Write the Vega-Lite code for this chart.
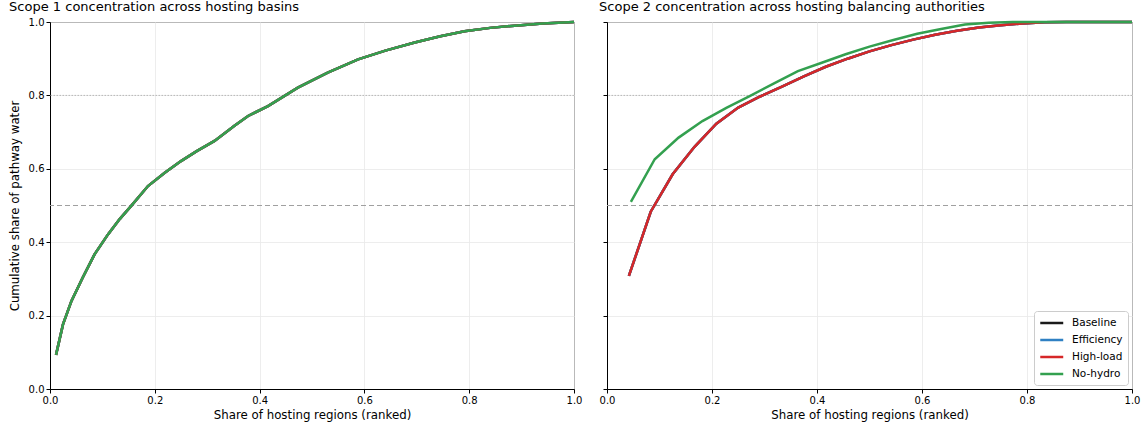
{
  "$schema": "https://vega.github.io/schema/vega-lite/v6.json",
  "padding": {"left": 8, "top": 0, "right": 5, "bottom": 0},
  "spacing": 15,
  "config": {
    "font": "DejaVu Sans",
    "view": {"stroke": "#000000", "strokeWidth": 1},
    "axis": {
      "domainColor": "#000000",
      "tickColor": "#000000",
      "tickSize": 4,
      "labelFontSize": 10,
      "labelColor": "#000000",
      "labelFlush": false,
      "titleFontSize": 11.8,
      "titleFontWeight": "normal",
      "titleColor": "#000000",
      "gridColor": "#e8e8e8",
      "gridWidth": 0.8,
      "labelPadding": 2
    },
    "title": {"fontSize": 13, "fontWeight": "normal", "anchor": "start", "color": "#000000", "offset": 3}
  },
  "datasets": {
    "curves": [
      {"p": "L", "x": 0.0115, "y": 0.093, "s": ["Baseline", "Efficiency", "High-load", "No-hydro"]},
      {"p": "L", "x": 0.0248, "y": 0.176, "s": ["Baseline", "Efficiency", "High-load", "No-hydro"]},
      {"p": "L", "x": 0.041, "y": 0.240, "s": ["Baseline", "Efficiency", "High-load", "No-hydro"]},
      {"p": "L", "x": 0.063, "y": 0.305, "s": ["Baseline", "Efficiency", "High-load", "No-hydro"]},
      {"p": "L", "x": 0.085, "y": 0.367, "s": ["Baseline", "Efficiency", "High-load", "No-hydro"]},
      {"p": "L", "x": 0.111, "y": 0.422, "s": ["Baseline", "Efficiency", "High-load", "No-hydro"]},
      {"p": "L", "x": 0.133, "y": 0.463, "s": ["Baseline", "Efficiency", "High-load", "No-hydro"]},
      {"p": "L", "x": 0.155, "y": 0.499, "s": ["Baseline", "Efficiency", "High-load", "No-hydro"]},
      {"p": "L", "x": 0.187, "y": 0.553, "s": ["Baseline", "Efficiency", "High-load", "No-hydro"]},
      {"p": "L", "x": 0.219, "y": 0.589, "s": ["Baseline", "Efficiency", "High-load", "No-hydro"]},
      {"p": "L", "x": 0.25, "y": 0.621, "s": ["Baseline", "Efficiency", "High-load", "No-hydro"]},
      {"p": "L", "x": 0.28, "y": 0.648, "s": ["Baseline", "Efficiency", "High-load", "No-hydro"]},
      {"p": "L", "x": 0.314, "y": 0.676, "s": ["Baseline", "Efficiency", "High-load", "No-hydro"]},
      {"p": "L", "x": 0.352, "y": 0.717, "s": ["Baseline", "Efficiency", "High-load", "No-hydro"]},
      {"p": "L", "x": 0.378, "y": 0.744, "s": ["Baseline", "Efficiency", "High-load", "No-hydro"]},
      {"p": "L", "x": 0.416, "y": 0.771, "s": ["Baseline", "Efficiency", "High-load", "No-hydro"]},
      {"p": "L", "x": 0.473, "y": 0.821, "s": ["Baseline", "Efficiency", "High-load", "No-hydro"]},
      {"p": "L", "x": 0.53, "y": 0.862, "s": ["Baseline", "Efficiency", "High-load", "No-hydro"]},
      {"p": "L", "x": 0.588, "y": 0.898, "s": ["Baseline", "Efficiency", "High-load", "No-hydro"]},
      {"p": "L", "x": 0.64, "y": 0.922, "s": ["Baseline", "Efficiency", "High-load", "No-hydro"]},
      {"p": "L", "x": 0.696, "y": 0.944, "s": ["Baseline", "Efficiency", "High-load", "No-hydro"]},
      {"p": "L", "x": 0.745, "y": 0.961, "s": ["Baseline", "Efficiency", "High-load", "No-hydro"]},
      {"p": "L", "x": 0.791, "y": 0.975, "s": ["Baseline", "Efficiency", "High-load", "No-hydro"]},
      {"p": "L", "x": 0.84, "y": 0.984, "s": ["Baseline", "Efficiency", "High-load", "No-hydro"]},
      {"p": "L", "x": 0.887, "y": 0.990, "s": ["Baseline", "Efficiency", "High-load", "No-hydro"]},
      {"p": "L", "x": 0.94, "y": 0.996, "s": ["Baseline", "Efficiency", "High-load", "No-hydro"]},
      {"p": "L", "x": 1.0, "y": 1.0, "s": ["Baseline", "Efficiency", "High-load", "No-hydro"]},

      {"p": "R", "x": 0.0417, "y": 0.308, "s": ["Baseline", "Efficiency", "High-load"]},
      {"p": "R", "x": 0.0833, "y": 0.483, "s": ["Baseline", "Efficiency", "High-load"]},
      {"p": "R", "x": 0.125, "y": 0.585, "s": ["Baseline", "Efficiency", "High-load"]},
      {"p": "R", "x": 0.1667, "y": 0.660, "s": ["Baseline", "Efficiency", "High-load"]},
      {"p": "R", "x": 0.2083, "y": 0.723, "s": ["Baseline", "Efficiency", "High-load"]},
      {"p": "R", "x": 0.25, "y": 0.767, "s": ["Baseline", "Efficiency", "High-load"]},
      {"p": "R", "x": 0.2917, "y": 0.797, "s": ["Baseline", "Efficiency", "High-load"]},
      {"p": "R", "x": 0.3333, "y": 0.824, "s": ["Baseline", "Efficiency", "High-load"]},
      {"p": "R", "x": 0.375, "y": 0.852, "s": ["Baseline", "Efficiency", "High-load"]},
      {"p": "R", "x": 0.4167, "y": 0.878, "s": ["Baseline", "Efficiency", "High-load"]},
      {"p": "R", "x": 0.4583, "y": 0.900, "s": ["Baseline", "Efficiency", "High-load"]},
      {"p": "R", "x": 0.5, "y": 0.920, "s": ["Baseline", "Efficiency", "High-load"]},
      {"p": "R", "x": 0.5417, "y": 0.937, "s": ["Baseline", "Efficiency", "High-load"]},
      {"p": "R", "x": 0.5833, "y": 0.952, "s": ["Baseline", "Efficiency", "High-load"]},
      {"p": "R", "x": 0.625, "y": 0.965, "s": ["Baseline", "Efficiency", "High-load"]},
      {"p": "R", "x": 0.6667, "y": 0.976, "s": ["Baseline", "Efficiency", "High-load"]},
      {"p": "R", "x": 0.7083, "y": 0.985, "s": ["Baseline", "Efficiency", "High-load"]},
      {"p": "R", "x": 0.75, "y": 0.991, "s": ["Baseline", "Efficiency", "High-load"]},
      {"p": "R", "x": 0.7917, "y": 0.996, "s": ["Baseline", "Efficiency", "High-load"]},
      {"p": "R", "x": 0.8333, "y": 0.999, "s": ["Baseline", "Efficiency", "High-load"]},
      {"p": "R", "x": 0.875, "y": 1.0, "s": ["Baseline", "Efficiency", "High-load"]},
      {"p": "R", "x": 0.9167, "y": 1.0, "s": ["Baseline", "Efficiency", "High-load"]},
      {"p": "R", "x": 0.9583, "y": 1.0, "s": ["Baseline", "Efficiency", "High-load"]},
      {"p": "R", "x": 1.0, "y": 1.0, "s": ["Baseline", "Efficiency", "High-load"]},

      {"p": "R", "x": 0.0455, "y": 0.510, "s": ["No-hydro"]},
      {"p": "R", "x": 0.0909, "y": 0.626, "s": ["No-hydro"]},
      {"p": "R", "x": 0.1364, "y": 0.685, "s": ["No-hydro"]},
      {"p": "R", "x": 0.1818, "y": 0.730, "s": ["No-hydro"]},
      {"p": "R", "x": 0.2273, "y": 0.766, "s": ["No-hydro"]},
      {"p": "R", "x": 0.2727, "y": 0.799, "s": ["No-hydro"]},
      {"p": "R", "x": 0.3182, "y": 0.833, "s": ["No-hydro"]},
      {"p": "R", "x": 0.3636, "y": 0.866, "s": ["No-hydro"]},
      {"p": "R", "x": 0.4091, "y": 0.889, "s": ["No-hydro"]},
      {"p": "R", "x": 0.4545, "y": 0.912, "s": ["No-hydro"]},
      {"p": "R", "x": 0.5, "y": 0.933, "s": ["No-hydro"]},
      {"p": "R", "x": 0.5455, "y": 0.951, "s": ["No-hydro"]},
      {"p": "R", "x": 0.5909, "y": 0.968, "s": ["No-hydro"]},
      {"p": "R", "x": 0.6364, "y": 0.981, "s": ["No-hydro"]},
      {"p": "R", "x": 0.6818, "y": 0.993, "s": ["No-hydro"]},
      {"p": "R", "x": 0.7273, "y": 0.998, "s": ["No-hydro"]},
      {"p": "R", "x": 0.7727, "y": 1.0, "s": ["No-hydro"]},
      {"p": "R", "x": 0.8182, "y": 1.0, "s": ["No-hydro"]},
      {"p": "R", "x": 0.8636, "y": 1.0, "s": ["No-hydro"]},
      {"p": "R", "x": 0.9091, "y": 1.0, "s": ["No-hydro"]},
      {"p": "R", "x": 0.9545, "y": 1.0, "s": ["No-hydro"]},
      {"p": "R", "x": 1.0, "y": 1.0, "s": ["No-hydro"]}
    ],
    "refs": [
      {"y": 0.5, "kind": "half"},
      {"y": 0.8, "kind": "eighty"}
    ]
  },
  "resolve": {"scale": {"color": "independent"}, "legend": {"color": "independent"}},
  "hconcat": [
    {
      "width": 524,
      "height": 367,
      "title": "Scope 1 concentration across hosting basins",
      "layer": [
        {
          "data": {"name": "refs"},
          "transform": [{"filter": "datum.kind === 'half'"}],
          "mark": {"type": "rule", "color": "#a0a0a0", "strokeWidth": 1.2, "strokeDash": [5, 3]},
          "encoding": {"y": {"field": "y", "type": "quantitative", "scale": {"domain": [0, 1]}}}
        },
        {
          "data": {"name": "refs"},
          "transform": [{"filter": "datum.kind === 'eighty'"}],
          "mark": {"type": "rule", "color": "#b8b8b8", "strokeWidth": 1, "strokeDash": [1.5, 1.5]},
          "encoding": {"y": {"field": "y", "type": "quantitative"}}
        },
        {
          "data": {"name": "curves"},
          "transform": [{"filter": "datum.p === 'L'"}, {"flatten": ["s"]}],
          "mark": {"type": "line", "strokeWidth": 2.5},
          "encoding": {
            "x": {"field": "x", "type": "quantitative", "scale": {"domain": [0, 1], "nice": false}, "axis": {"values": [0, 0.2, 0.4, 0.6, 0.8, 1.0], "format": ".1f", "title": "Share of hosting regions (ranked)"}},
            "y": {"field": "y", "type": "quantitative", "scale": {"domain": [0, 1], "nice": false}, "axis": {"values": [0, 0.2, 0.4, 0.6, 0.8, 1.0], "format": ".1f", "title": "Cumulative share of pathway water", "titlePadding": 8}},
            "color": {"field": "s", "type": "nominal", "scale": {"domain": ["Baseline", "Efficiency", "High-load", "No-hydro"], "range": ["#1a1a1a", "#2f80c3", "#d62728", "#33a04f"]}, "legend": null},
            "order": {"field": "x", "type": "quantitative"}
          }
        }
      ]
    },
    {
      "width": 525,
      "height": 367,
      "title": "Scope 2 concentration across hosting balancing authorities",
      "layer": [
        {
          "data": {"name": "refs"},
          "transform": [{"filter": "datum.kind === 'half'"}],
          "mark": {"type": "rule", "color": "#a0a0a0", "strokeWidth": 1.2, "strokeDash": [5, 3]},
          "encoding": {"y": {"field": "y", "type": "quantitative", "scale": {"domain": [0, 1]}}}
        },
        {
          "data": {"name": "refs"},
          "transform": [{"filter": "datum.kind === 'eighty'"}],
          "mark": {"type": "rule", "color": "#b8b8b8", "strokeWidth": 1, "strokeDash": [1.5, 1.5]},
          "encoding": {"y": {"field": "y", "type": "quantitative"}}
        },
        {
          "data": {"name": "curves"},
          "transform": [{"filter": "datum.p === 'R'"}, {"flatten": ["s"]}],
          "mark": {"type": "line", "strokeWidth": 2.5},
          "encoding": {
            "x": {"field": "x", "type": "quantitative", "scale": {"domain": [0, 1], "nice": false}, "axis": {"values": [0, 0.2, 0.4, 0.6, 0.8, 1.0], "format": ".1f", "title": "Share of hosting regions (ranked)"}},
            "y": {"field": "y", "type": "quantitative", "scale": {"domain": [0, 1], "nice": false}, "axis": {"values": [0, 0.2, 0.4, 0.6, 0.8, 1.0], "labels": false, "title": null}},
            "color": {"field": "s", "type": "nominal", "scale": {"domain": ["Baseline", "Efficiency", "High-load", "No-hydro"], "range": ["#1a1a1a", "#2f80c3", "#d62728", "#33a04f"]},
              "legend": {"title": null, "orient": "bottom-right", "offset": 4, "symbolType": "M-1,0L3,0", "symbolStrokeWidth": 2.5, "symbolSize": 132, "labelFontSize": 10.5, "labelColor": "#000000", "fillColor": "#ffffff", "strokeColor": "#cccccc", "cornerRadius": 3, "padding": 5, "rowPadding": 4, "labelOffset": 19}},
            "order": {"field": "x", "type": "quantitative"}
          }
        }
      ]
    }
  ]
}
